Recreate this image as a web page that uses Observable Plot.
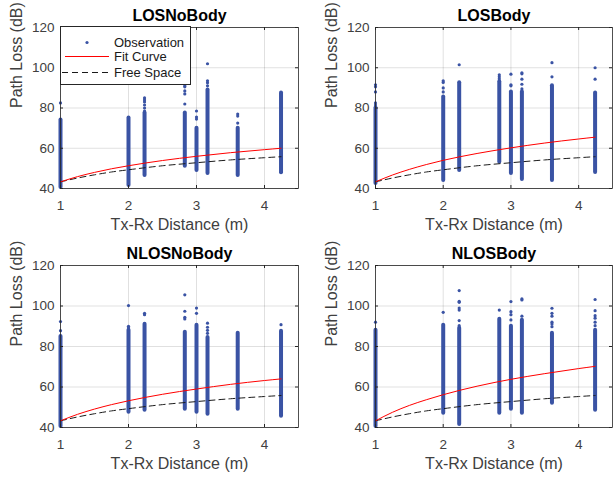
<!DOCTYPE html>
<html><head><meta charset="utf-8">
<script src="https://cdn.jsdelivr.net/npm/d3@7"></script>
<script src="https://cdn.jsdelivr.net/npm/@observablehq/plot@0.6"></script>
<style>
body{margin:0;background:#fff;}
#chart{position:relative;width:613px;height:477px;overflow:hidden;font-family:"Liberation Sans",Arial,sans-serif;background:#fff;}
#legend{position:absolute;left:60px;top:26px;width:129px;height:57px;border:1px solid #262626;background:#fff;z-index:5;}
#legend svg{display:block;}
</style></head><body><div id="chart"></div>
<script>
// ---- data ----
const distances = [1, 2, 2.236, 2.828, 3, 3.162, 3.606, 4.243];
const xTicks = [1, 2, 3, 4];
const yTicks = [40, 60, 80, 100, 120];
const panelTitles = ["LOSNoBody", "LOSBody", "NLOSNoBody", "NLOSBody"];
const legendLabels = ["Observation", "Fit Curve", "Free Space"];
const xLabel = "Tx-Rx Distance (m)";
const yLabel = "Path Loss (dB)";

// dense part of each observation stripe (min / max path loss, dB)
const losNoBodyLow   = [40.5, 41.5, 46.5, 51, 49, 47.5, 46.5, 47.8];
const losNoBodyHigh  = [74, 75, 77.5, 77.5, 70, 89, 70, 87.5];
const losBodyLow     = [42.5, 44, 49, 53, 47.5, 44.5, 44, 48];
const losBodyHigh    = [80, 85.5, 92.5, 93, 88, 88, 91, 87.5];
const nlosNoBodyLow  = [40.5, 47.5, 48.5, 49, 47.5, 46.5, 49, 45.5];
const nlosNoBodyHigh = [85, 88, 91, 87, 90.5, 84.5, 86.5, 87.5];
const nlosBodyLow    = [40.5, 47, 41.5, 47, 49, 47, 52, 48.5];
const nlosBodyHigh   = [88, 90.5, 89, 93.5, 90, 93, 86.5, 88];

// isolated observations [distance, path loss]
const losNoBodyOutliers = [[1,82.5],[2.236,78.5],[2.236,80],[2.236,81.5],[2.236,83],[2.236,84],[2.236,85],
  [2.828,82],[2.828,87],[2.828,88.5],[2.828,90.5],[2.828,91],[2.828,93.5],[3,74.5],[3,75.5],[3,78.5],
  [3.162,91],[3.162,92.5],[3.162,93.5],[3.162,102],[3.606,72.5],[3.606,76],[3.606,77]];
const losBodyOutliers = [[1,81.5],[1,82.5],[1,88],[1,90.5],[1,91.5],[2,88],[2,90],[2,92.7],[2,93.5],
  [2.236,101.5],[2.828,94.5],[2.828,95.5],[2.828,96.5],[3,91],[3,91.5],[3,96.8],
  [3.162,89.5],[3.162,91.8],[3.162,94.3],[3.162,97],[3.162,97.5],[3.606,95.5],[3.606,102.5],[4.243,94.3],[4.243,100]];
const nlosNoBodyOutliers = [[1,87.8],[1,92.3],[2,89.2],[2,90],[2,100.2],[2.236,95.7],[2.236,96.4],
  [2.828,93.6],[2.828,94.4],[2.828,97.4],[2.828,105.5],[3,96.4],[3,99],
  [3.162,86.5],[3.162,88],[3.162,89.5],[3.162,91.5],[4.243,90.8]];
const nlosBodyOutliers = [[1,92],[2,96.9],[2.236,90.3],[2.236,92.8],[2.236,98],[2.236,99],[2.236,101.8],[2.236,102.3],[2.236,107.6],
  [2.828,98],[3,93.1],[3,95.7],[3,97.2],[3,102.2],[3.162,95],[3.162,103],[3.162,103.5],
  [3.606,89.8],[3.606,91.1],[3.606,92],[3.606,95],[3.606,96.4],[3.606,98.9],
  [4.243,90.3],[4.243,92],[4.243,94],[4.243,95.2],[4.243,97.7],[4.243,103.2]];

// curves read at these distances
const curveX         = [1, 1.25, 1.5, 1.75, 2, 2.5, 3, 3.5, 4, 4.243];
const freeSpace      = [43.3, 45.2, 46.8, 48.2, 49.3, 51.3, 52.8, 54.2, 55.3, 55.8];
const losNoBodyFit   = [43.3, 45.9, 48.0, 49.8, 51.3, 53.9, 56.0, 57.8, 59.3, 60.0];
const losBodyFit     = [43.3, 46.7, 49.5, 51.9, 54.0, 57.4, 60.2, 62.6, 64.6, 65.5];
const nlosNoBodyFit  = [43.3, 46.5, 49.1, 51.3, 53.2, 56.4, 59.0, 61.3, 63.2, 64.0];
const nlosBodyFit    = [43.3, 47.5, 50.9, 53.7, 56.2, 60.4, 63.8, 66.6, 69.1, 70.2];

// ---- layout ----
const blue = "#3a53a4";
const axisColor = "#262626";
const textColor = "#404040";
const font = '"Liberation Sans", Arial, sans-serif';
const layout = [
  {left: 0,   top: 0,   width: 306, height: 238, mr: 8},
  {left: 315, top: 0,   width: 298, height: 238, mr: 1},
  {left: 0,   top: 238, width: 306, height: 239, mr: 8},
  {left: 315, top: 238, width: 298, height: 239, mr: 1}
];
const panelData = [
  [losNoBodyLow, losNoBodyHigh, losNoBodyOutliers, losNoBodyFit],
  [losBodyLow, losBodyHigh, losBodyOutliers, losBodyFit],
  [nlosNoBodyLow, nlosNoBodyHigh, nlosNoBodyOutliers, nlosNoBodyFit],
  [nlosBodyLow, nlosBodyHigh, nlosBodyOutliers, nlosBodyFit]
];

const chart = document.getElementById("chart");
panelTitles.forEach((title, k) => {
  const L = layout[k];
  const [low, high, outliers, fitY] = panelData[k];
  const mt = 27, mb = 50, ml = 60;
  const ih = L.height - mt - mb, iw = L.width - ml - L.mr;
  const stripes = distances.map((d, i) => ({d, lo: low[i], hi: high[i]}));
  const outs = outliers.map(([d, v]) => ({d, v}));
  const fit = curveX.map((x, i) => ({x, y: fitY[i]}));
  const free = curveX.map((x, i) => ({x, y: freeSpace[i]}));
  const svg = Plot.plot({
    width: L.width, height: L.height,
    marginTop: mt, marginBottom: mb, marginLeft: ml, marginRight: L.mr,
    x: {domain: [1, 4.5]},
    y: {domain: [40, 120]},
    style: {fontFamily: font, background: "transparent", overflow: "visible"},
    marks: [
      Plot.gridX(xTicks, {stroke: "#000", strokeOpacity: 0.12}),
      Plot.gridY(yTicks, {stroke: "#000", strokeOpacity: 0.12}),
      Plot.ruleX(stripes, {x: "d", y1: "lo", y2: "hi", stroke: blue, strokeWidth: 4, strokeLinecap: "round"}),
      Plot.dot(outs, {x: "d", y: "v", r: 1.6, fill: blue, stroke: null}),
      Plot.line(free, {x: "x", y: "y", stroke: "#1a1a1a", strokeWidth: 1, strokeDasharray: "6,4", curve: "monotone-x"}),
      Plot.line(fit, {x: "x", y: "y", stroke: "#ff0000", strokeWidth: 1, curve: "monotone-x"}),
      Plot.tickX(xTicks, {x: d => d, insetTop: ih - 3, stroke: axisColor}),
      Plot.tickX(xTicks, {x: d => d, insetBottom: ih - 3, stroke: axisColor}),
      Plot.tickY(yTicks, {y: d => d, insetRight: iw - 3, stroke: axisColor}),
      Plot.tickY(yTicks, {y: d => d, insetLeft: iw - 3, stroke: axisColor}),
      Plot.frame({stroke: axisColor, strokeWidth: 0.8}),
      Plot.axisX({ticks: xTicks, tickFormat: d3.format("d"), tickSize: 0, tickPadding: 12, fontSize: 13.5, color: textColor, label: null}),
      Plot.axisY({ticks: yTicks, tickFormat: d3.format("d"), tickSize: 0, tickPadding: 6, fontSize: 13.5, color: textColor, label: null}),
      Plot.text([title], {text: d => d, frameAnchor: "top", lineAnchor: "middle", dy: -12, fontSize: 16, fontWeight: "bold", fill: "#000"}),
      Plot.text([xLabel], {text: d => d, frameAnchor: "bottom", lineAnchor: "middle", dy: 36, fontSize: 16, fill: textColor}),
      Plot.text([yLabel], {text: d => d, frameAnchor: "left", lineAnchor: "middle", dx: -44, rotate: -90, fontSize: 16, fill: textColor})
    ]
  });
  svg.style.position = "absolute";
  svg.style.left = L.left + "px";
  svg.style.top = L.top + "px";
  chart.appendChild(svg);
});

// ---- legend (inside first panel) ----
const legendDiv = d3.select(chart).append("div").attr("id", "legend");
const lg = legendDiv.append("svg").attr("width", 129).attr("height", 57)
  .style("font-family", font);
const rowY = [15.5, 29.5, 45.5];
legendLabels.forEach((lab, i) => {
  const y = rowY[i];
  if (i === 0) lg.append("circle").attr("cx", 26).attr("cy", y).attr("r", 1.6).attr("fill", blue);
  if (i === 1) lg.append("line").attr("x1", 4).attr("x2", 48).attr("y1", y).attr("y2", y).attr("stroke", "#ff0000");
  if (i === 2) lg.append("line").attr("x1", 1).attr("x2", 48).attr("y1", y).attr("y2", y).attr("stroke", "#1a1a1a").attr("stroke-dasharray", "6,4");
  lg.append("text").attr("x", 53).attr("y", y).attr("dy", "0.35em").attr("font-size", 13).attr("fill", "#1a1a1a").text(lab);
});
</script></body></html>
